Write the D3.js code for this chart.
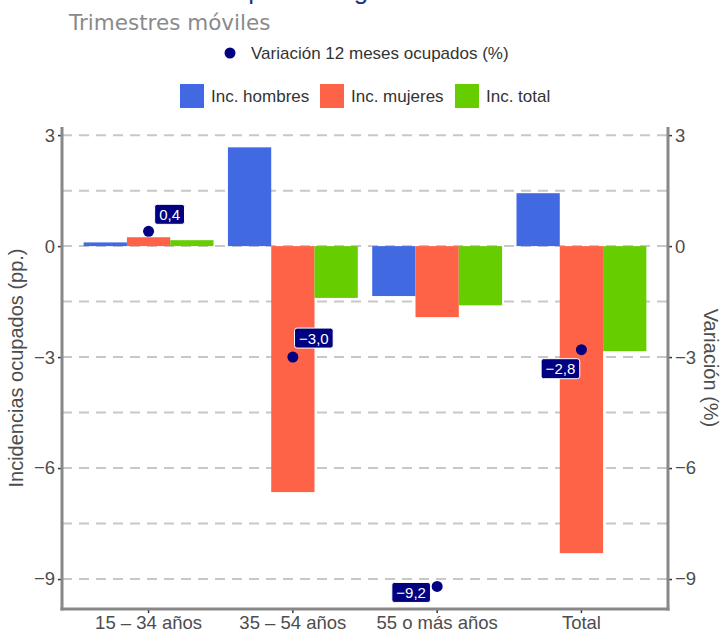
<!DOCTYPE html>
<html>
<head>
<meta charset="utf-8">
<script src="https://cdn.jsdelivr.net/npm/d3@7"></script>
<style>
  body { margin: 0; background: #fff; }
  text { font-family: "Liberation Sans", Arial, sans-serif; }
</style>
</head>
<body>
<div id="graph"></div>
<script>
// datos
let tramos = ["15 – 34 años", "35 – 54 años", "55 o más años", "Total"];
let incHombres = [0.10, 2.67, -1.35, 1.43];
let incMujeres = [0.24, -6.65, -1.92, -8.30];
let incTotal = [0.16, -1.40, -1.60, -2.84];
let variacion = [0.4, -3.0, -9.2, -2.8];
let ticksY = [3, 0, -3, -6, -9];
let series = ["Inc. hombres", "Inc. mujeres", "Inc. total"];
let colores = ["#4169E1", "#FF6347", "#66CD00"];

// desplazamiento de las etiquetas (px) respecto al punto
let nudge = [[21, -17], [21, -19], [-26, 6], [-21, 19]];

let W = 720, H = 632;
let margin = { top: 127, right: 52, bottom: 23, left: 62 };
let width = W - margin.left - margin.right,
    height = H - margin.top - margin.bottom;

let svg = d3.select("#graph")
    .append("svg")
    .attr("width", W)
    .attr("height", H);

let fmt = function (v) { return d3.format(".1f")(v).replace(".", ",").replace("-", "−"); };
let fmtTick = function (v) { return String(v).replace("-", "−"); };

// titulo (cortado arriba) y subtitulo
svg.append("text")
    .attr("x", 69).attr("y", -1.5)
    .attr("fill", "#1f3385")
    .style("font-size", "26px")
    .text("Incidencias ocupados según tramo de edad");
svg.append("text")
    .attr("x", 69).attr("y", 30)
    .attr("fill", "#8a8a8a")
    .style("font-family", "DejaVu Sans")
    .style("font-size", "21.5px")
    .text("Trimestres móviles");

// leyendas
let leg1 = svg.append("g").attr("transform", "translate(230,53)");
leg1.append("circle").attr("r", 5.5).attr("fill", "#000080");
leg1.append("text").attr("x", 21).attr("y", 6).attr("fill", "#333")
    .style("font-size", "17px")
    .text("Variación 12 meses ocupados (%)");

let legX = [180, 320, 455];
let leg2 = svg.append("g").attr("transform", "translate(0,84)");
series.forEach(function (s, i) {
    leg2.append("rect").attr("x", legX[i]).attr("y", 0)
        .attr("width", 24).attr("height", 24).attr("fill", colores[i]);
    leg2.append("text").attr("x", legX[i] + 31).attr("y", 18).attr("fill", "#333")
        .style("font-size", "17px")
        .text(s);
});

let g = svg.append("g")
    .attr("transform", "translate(" + margin.left + "," + margin.top + ")");

let y = d3.scaleLinear()
    .domain([-9.81, 3.22])
    .range([height, 0]);

let x = d3.scaleBand()
    .domain(tramos)
    .range([0, width]);

// ggplot: expansion de 0.6 unidades a cada lado
let unit = width / (tramos.length - 1 + 1.2);
let cx = function (i) { return unit * (0.6 + i); };

// grilla
let grid = d3.range(-9, 3.01, 1.5);
g.selectAll(".grid")
    .data(grid)
    .enter()
    .append("line")
    .attr("x1", 0).attr("x2", width)
    .attr("y1", function (d) { return y(d); })
    .attr("y2", function (d) { return y(d); })
    .attr("stroke", "#c8c8c8")
    .attr("stroke-width", 2)
    .attr("stroke-dasharray", "10,7");

// barras
let barW = unit * 0.3;
let valores = [incHombres, incMujeres, incTotal];
valores.forEach(function (serie, k) {
    g.selectAll(".bar" + k)
        .data(serie)
        .enter()
        .append("rect")
        .attr("x", function (d, i) { return cx(i) - 1.5 * barW + k * barW; })
        .attr("y", function (d) { return y(Math.max(0, d)); })
        .attr("width", barW)
        .attr("height", function (d) { return Math.abs(y(d) - y(0)); })
        .attr("fill", colores[k]);
});

// puntos
g.selectAll(".pt")
    .data(variacion)
    .enter()
    .append("circle")
    .attr("cx", function (d, i) { return cx(i); })
    .attr("cy", function (d) { return y(d); })
    .attr("r", 5.5)
    .attr("fill", "#000080");

// etiquetas
variacion.forEach(function (d, i) {
    let lx = cx(i) + nudge[i][0], ly = y(d) + nudge[i][1];
    let lg = g.append("g").attr("transform", "translate(" + lx + "," + ly + ")");
    let t = lg.append("text")
        .attr("text-anchor", "middle")
        .attr("y", 5.5)
        .attr("fill", "#fff")
        .style("font-size", "15px")
        .text(fmt(d));
    let bb = t.node().getBBox();
    lg.insert("rect", "text")
        .attr("x", bb.x - 4.5).attr("y", -10)
        .attr("width", bb.width + 9).attr("height", 20)
        .attr("rx", 2.5)
        .attr("fill", "#000080")
        .attr("stroke", "#fff")
        .attr("stroke-width", 1);
});

// ejes
let axisColor = "#888";
let left = g.append("g")
    .call(d3.axisLeft(y).tickValues(ticksY).tickFormat(fmtTick).tickSize(4).tickPadding(3));
let right = g.append("g")
    .attr("transform", "translate(" + width + ",0)")
    .call(d3.axisRight(y).tickValues(ticksY).tickFormat(fmtTick).tickSize(4).tickPadding(3));
let bottom = g.append("g")
    .attr("transform", "translate(0," + height + ")")
    .call(d3.axisBottom(x).tickSize(4).tickPadding(3));
bottom.selectAll(".tick").attr("transform", function (d, i) { return "translate(" + cx(i) + ",0)"; });

[left, right, bottom].forEach(function (a) {
    a.select(".domain").remove();
    a.selectAll(".tick line").attr("stroke", "#333").attr("stroke-width", 1.5);
    a.selectAll(".tick text").attr("fill", "#4d4d4d").style("font-size", "18.5px")
        .style("font-family", "Liberation Sans");
});

g.append("line").attr("x1", 0).attr("x2", 0).attr("y1", 0).attr("y2", height + 1.5)
    .attr("stroke", axisColor).attr("stroke-width", 3);
g.append("line").attr("x1", width).attr("x2", width).attr("y1", 0).attr("y2", height + 1.5)
    .attr("stroke", axisColor).attr("stroke-width", 3);
g.append("line").attr("x1", -1.5).attr("x2", width + 1.5).attr("y1", height).attr("y2", height)
    .attr("stroke", axisColor).attr("stroke-width", 3);

// titulos de ejes
svg.append("text")
    .attr("transform", "translate(23," + (margin.top + height / 2) + ") rotate(-90)")
    .attr("text-anchor", "middle")
    .attr("fill", "#4d4d4d")
    .style("font-size", "20px")
    .text("Incidencias ocupados (pp.)");
svg.append("text")
    .attr("transform", "translate(704," + (margin.top + height / 2) + ") rotate(90)")
    .attr("text-anchor", "middle")
    .attr("fill", "#4d4d4d")
    .style("font-size", "20px")
    .text("Variación (%)");
</script>
</body>
</html>
